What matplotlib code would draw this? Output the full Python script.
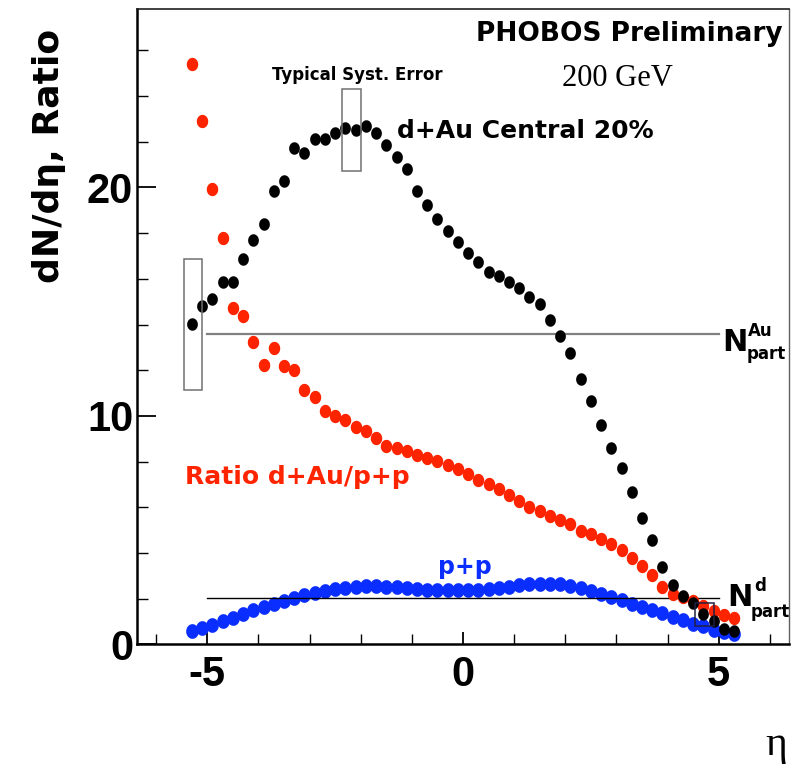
import matplotlib
matplotlib.use('Agg')
import numpy as np
import matplotlib.pyplot as plt
from matplotlib.patches import Rectangle
from matplotlib.path import Path

# ---------------- data ----------------
eta = [-5.3, -5.1, -4.9, -4.7, -4.5, -4.3, -4.1, -3.9, -3.7, -3.5,
       -3.3, -3.1, -2.9, -2.7, -2.5, -2.3, -2.1, -1.9, -1.7, -1.5,
       -1.3, -1.1, -0.9, -0.7, -0.5, -0.3, -0.1, 0.1, 0.3, 0.5,
       0.7, 0.9, 1.1, 1.3, 1.5, 1.7, 1.9, 2.1, 2.3, 2.5,
       2.7, 2.9, 3.1, 3.3, 3.5, 3.7, 3.9, 4.1, 4.3, 4.5,
       4.7, 4.9, 5.1, 5.3]

dau_central = [14.02, 14.79, 15.11, 15.88, 15.88, 16.88, 17.72, 18.42, 19.84, 20.30,
               21.74, 21.52, 22.14, 22.14, 22.39, 22.62, 22.52, 22.67, 22.39, 21.85,
               21.35, 20.82, 19.84, 19.22, 18.62, 18.09, 17.63, 17.14, 16.72, 16.30,
               16.13, 15.87, 15.61, 15.21, 14.91, 14.19, 13.50, 12.75, 11.61, 10.64,
               9.62, 8.59, 7.70, 6.66, 5.51, 4.56, 3.39, 2.58, 2.10, 1.79,
               1.33, 1.00, 0.69, 0.57]

ratio = [25.40, 22.89, 19.93, 17.77, 14.72, 14.37, 13.25, 12.24, 12.95, 12.17,
         12.01, 11.14, 10.84, 10.22, 10.00, 9.83, 9.53, 9.33, 9.03, 8.68,
         8.58, 8.46, 8.29, 8.16, 8.01, 7.86, 7.66, 7.45, 7.21, 7.02,
         6.79, 6.52, 6.29, 6.03, 5.83, 5.63, 5.45, 5.26, 4.98, 4.83,
         4.60, 4.37, 4.14, 3.76, 3.41, 3.02, 2.53, 2.22, 2.07, 1.89,
         1.69, 1.46, 1.27, 1.15]

pp = [0.58, 0.70, 0.85, 1.00, 1.16, 1.33, 1.48, 1.62, 1.76, 1.88,
      2.02, 2.14, 2.24, 2.32, 2.40, 2.46, 2.51, 2.54, 2.55, 2.53,
      2.49, 2.45, 2.42, 2.39, 2.38, 2.36, 2.36, 2.37, 2.39, 2.41,
      2.46, 2.53, 2.58, 2.63, 2.66, 2.66, 2.62, 2.55, 2.45, 2.33,
      2.20, 2.06, 1.92, 1.78, 1.63, 1.49, 1.35, 1.20, 1.06, 0.90,
      0.78, 0.64, 0.52, 0.47]

npart_au = 13.58
npart_d = 2.02
npart_range = [-5.0, 5.0]

syst_eta = [-5.28, -2.18, 4.72]
syst_lo = [11.14, 20.74, 0.80]
syst_hi = [16.88, 24.30, 1.80]
syst_colors = ['#707070', '#707070', '#202040']

x_major = [-5, 0, 5]
y_major = [0, 10, 20]

# ---------------- figure ----------------
plt.rcParams['axes.unicode_minus'] = False
W, H = 804, 765
fig = plt.figure(figsize=(W / 100, H / 100), dpi=100)
ax = fig.add_axes([137.3 / W, 1 - 644.3 / H, (788.7 - 137.3) / W, (644.3 - 9.3) / H])

ax.set_xlim(-6.37, 6.37)
ax.set_ylim(0, 27.8)

RED = '#ff2400'
BLUE = '#0a2eff'

# slightly tall elliptical dot (the original picture is a stretched ROOT canvas)
t = np.linspace(0, 2 * np.pi, 41)
ell = Path(np.column_stack([0.86 * np.cos(t), np.sin(t)]), closed=True)

ax.plot(eta, pp, linestyle='none', marker=ell, color=BLUE, markersize=10.6,
        markeredgewidth=0, zorder=3)
ax.plot(npart_range, [npart_d, npart_d], color='black', lw=1.0, zorder=3.5)
ax.plot(npart_range, [npart_au, npart_au], color='#808080', lw=1.6, zorder=2)
ax.plot(eta, ratio, linestyle='none', marker=ell, color=RED, markersize=9.6,
        markeredgewidth=0, zorder=4)
ax.plot(eta, dau_central, linestyle='none', marker=ell, color='black', markersize=9.0,
        markeredgewidth=0, zorder=5)

hw = 0.18
for e, lo, hi, c in zip(syst_eta, syst_lo, syst_hi, syst_colors):
    ax.add_patch(Rectangle((e - hw, lo), 2 * hw, hi - lo, fill=False,
                           edgecolor=c, lw=1.1, zorder=6))

# ticks
ax.set_xticks(x_major)
ax.set_xticks(list(range(-6, 7)), minor=True)
ax.set_yticks(y_major)
ax.set_yticks(list(range(0, 27, 2)), minor=True)
ax.tick_params(axis='y', which='major', direction='in', length=14, width=1.3, pad=3)
ax.tick_params(axis='y', which='minor', direction='in', length=8, width=1.0)
ax.tick_params(axis='x', which='major', direction='in', length=9, width=1.3, pad=8)
ax.tick_params(axis='x', which='minor', direction='in', length=7, width=1.0)
for lab in ax.get_xticklabels() + ax.get_yticklabels():
    lab.set_fontfamily('Liberation Sans')
    lab.set_fontweight('bold')
    lab.set_fontsize(30)

for s in ['left', 'bottom']:
    ax.spines[s].set_linewidth(1.8)
    ax.spines[s].set_color('black')
ax.spines['top'].set_linewidth(1.2)
ax.spines['top'].set_color('#202020')
ax.spines['right'].set_linewidth(1.0)
ax.spines['right'].set_color('#606060')


def ftext(px, py, s, **kw):
    fig.text(px / W, 1 - py / H, s, **kw)


bold = dict(family='DejaVu Sans', fontweight='bold')

ftext(783, 34, 'PHOBOS Preliminary', ha='right', va='center', fontsize=19, **bold)
ftext(562, 78, '200 GeV', ha='left', va='center', fontsize=22, family='Liberation Serif')
ftext(357, 75, 'Typical Syst. Error', ha='center', va='center', fontsize=12, **bold)
ftext(397, 131, 'd+Au Central 20%', ha='left', va='center', fontsize=18, **bold)
ftext(185, 484, 'Ratio d+Au/p+p', ha='left', va='baseline', fontsize=18, color=RED, **bold)
ftext(465, 574, 'p+p', ha='center', va='baseline', fontsize=17, color=BLUE, **bold)

# N_part labels
ftext(722, 351, 'N', ha='left', va='baseline', fontsize=22, **bold)
ftext(748, 336, 'Au', ha='left', va='baseline', fontsize=12, **bold)
ftext(747, 359, 'part', ha='left', va='baseline', fontsize=12, **bold)
ftext(727, 606, 'N', ha='left', va='baseline', fontsize=22, **bold)
ftext(754, 591, 'd', ha='left', va='baseline', fontsize=12, **bold)
ftext(751, 617, 'part', ha='left', va='baseline', fontsize=12, **bold)

# axis titles
ftext(49, 156, 'dN/dη, Ratio', ha='center', va='center', rotation=90, fontsize=26, **bold)
ftext(776, 745, 'η', ha='center', va='center', fontsize=30, family='Liberation Serif')

fig.savefig('out.png', dpi=100)
